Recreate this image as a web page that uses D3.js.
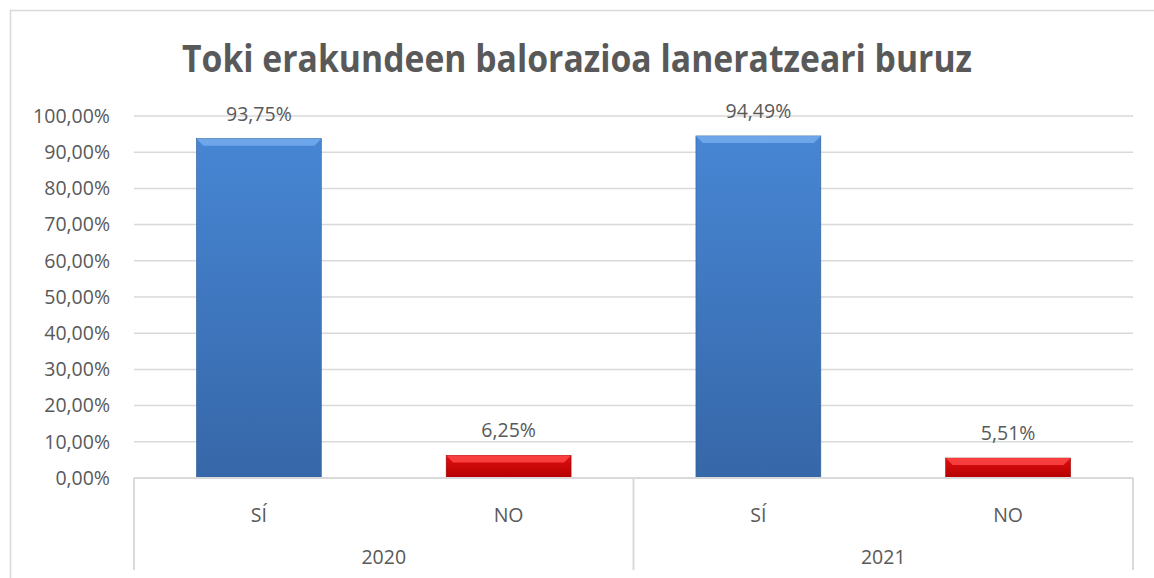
<!DOCTYPE html>
<html>
<head>
<meta charset="utf-8">
<script src="https://cdn.jsdelivr.net/npm/d3@7"></script>
<style>
  body { margin: 0; background: #fff; }
  text { font-family: "Open Sans", "Liberation Sans", sans-serif; fill: #595959; }
</style>
</head>
<body>
<script>
var years = ["2020", "2021"];
var answers = ["SÍ", "NO"];
var values2020 = [93.75, 6.25];
var values2021 = [94.49, 5.51];
var yTicks = [0, 10, 20, 30, 40, 50, 60, 70, 80, 90, 100];

var rows = [];
years.forEach(function(yr, i) {
  var vals = i == 0 ? values2020 : values2021;
  answers.forEach(function(a, j) {
    rows.push({ key: yr + "-" + a, year: yr, answer: a, value: vals[j] });
  });
});

var W = 1154, H = 578;
var plotL = 134, plotR = 1133, plotT = 116, plotB = 478;
var fs = 19.5;

var svg = d3.select("body").append("svg")
  .attr("width", W)
  .attr("height", H);

var defs = svg.append("defs");
var blue = defs.append("linearGradient").attr("id", "gblue")
  .attr("x1", 0).attr("y1", 0).attr("x2", 0).attr("y2", 1);
blue.append("stop").attr("offset", "0%").attr("stop-color", "#4786d4");
blue.append("stop").attr("offset", "100%").attr("stop-color", "#3667a8");
var red = defs.append("linearGradient").attr("id", "gred")
  .attr("x1", 0).attr("y1", 0).attr("x2", 0).attr("y2", 1);
red.append("stop").attr("offset", "0%").attr("stop-color", "#e01010");
red.append("stop").attr("offset", "100%").attr("stop-color", "#b40000");

// chart frame
svg.append("rect")
  .attr("x", 10.5).attr("y", 10.5)
  .attr("width", W + 10).attr("height", H + 10)
  .attr("fill", "none")
  .attr("stroke", "#d9d9d9")
  .attr("stroke-width", 1.5);

svg.append("text")
  .attr("x", 577)
  .attr("y", 72)
  .attr("text-anchor", "middle")
  .attr("font-size", 38)
  .attr("font-weight", "bold")
  .attr("textLength", 790)
  .attr("lengthAdjust", "spacingAndGlyphs")
  .text("Toki erakundeen balorazioa laneratzeari buruz");

var y = d3.scaleLinear().domain([0, 100]).range([plotB, plotT]);
var x = d3.scaleBand().domain(rows.map(function(d) { return d.key; }))
  .range([plotL, plotR]).paddingInner(0.5).paddingOuter(0.25);
var xYear = d3.scaleBand().domain(years).range([plotL, plotR]);

var fmt = function(v) { return d3.format(".2f")(v).replace(".", ",") + "%"; };

// gridlines
svg.append("g").selectAll("line")
  .data(yTicks.slice(1))
  .join("line")
    .attr("x1", plotL).attr("x2", plotR)
    .attr("y1", function(d) { return y(d); })
    .attr("y2", function(d) { return y(d); })
    .attr("stroke", "#d9d9d9")
    .attr("stroke-width", 1.5);

var yAxis = svg.append("g")
  .attr("transform", "translate(" + plotL + ",0)")
  .call(d3.axisLeft(y).tickValues(yTicks).tickSize(0).tickPadding(24).tickFormat(fmt));
yAxis.select(".domain").remove();
yAxis.selectAll("text").attr("font-size", fs).attr("fill", "#595959")
  .attr("font-family", "Open Sans, sans-serif");

// bars
var bars = svg.append("g").selectAll("g")
  .data(rows)
  .join("g");

bars.append("rect")
  .attr("x", function(d) { return x(d.key); })
  .attr("y", function(d) { return y(d.value); })
  .attr("width", x.bandwidth())
  .attr("height", function(d) { return y(0) - y(d.value); })
  .attr("fill", function(d) { return d.answer == "SÍ" ? "url(#gblue)" : "url(#gred)"; })
  .attr("stroke", function(d) { return d.answer == "SÍ" ? "#2f5e9a" : "#9a0000"; })
  .attr("stroke-width", 0.6);

// bevel on top edge
bars.append("path")
  .attr("d", function(d) {
    var x0 = x(d.key), x1 = x0 + x.bandwidth(), y0 = y(d.value), b = 7;
    return "M" + x0 + "," + y0 + "L" + x1 + "," + y0 + "L" + (x1 - b) + "," + (y0 + b) +
      "L" + (x0 + b) + "," + (y0 + b) + "Z";
  })
  .attr("fill", function(d) { return d.answer == "SÍ" ? "#78aef0" : "#ff4a4a"; })
  .attr("opacity", 0.8);

bars.append("text")
  .attr("x", function(d) { return x(d.key) + x.bandwidth() / 2; })
  .attr("y", function(d) { return y(d.value) - 18; })
  .attr("text-anchor", "middle")
  .attr("font-size", fs)
  .text(function(d) { return fmt(d.value); });

// category axis
svg.append("line")
  .attr("x1", plotL).attr("x2", plotR)
  .attr("y1", plotB).attr("y2", plotB)
  .attr("stroke", "#d9d9d9").attr("stroke-width", 2);

svg.append("g").selectAll("line")
  .data([plotL, xYear("2021"), plotR])
  .join("line")
    .attr("x1", function(d) { return d; }).attr("x2", function(d) { return d; })
    .attr("y1", plotB).attr("y2", 570)
    .attr("stroke", "#d9d9d9").attr("stroke-width", 2);

svg.append("g").selectAll("text")
  .data(rows)
  .join("text")
    .attr("x", function(d) { return x(d.key) + x.bandwidth() / 2; })
    .attr("y", 522)
    .attr("text-anchor", "middle")
    .attr("font-size", fs)
    .text(function(d) { return d.answer; });

svg.append("g").selectAll("text")
  .data(years)
  .join("text")
    .attr("x", function(d) { return xYear(d) + xYear.bandwidth() / 2; })
    .attr("y", 564)
    .attr("text-anchor", "middle")
    .attr("font-size", fs)
    .text(function(d) { return d; });
</script>
</body>
</html>
